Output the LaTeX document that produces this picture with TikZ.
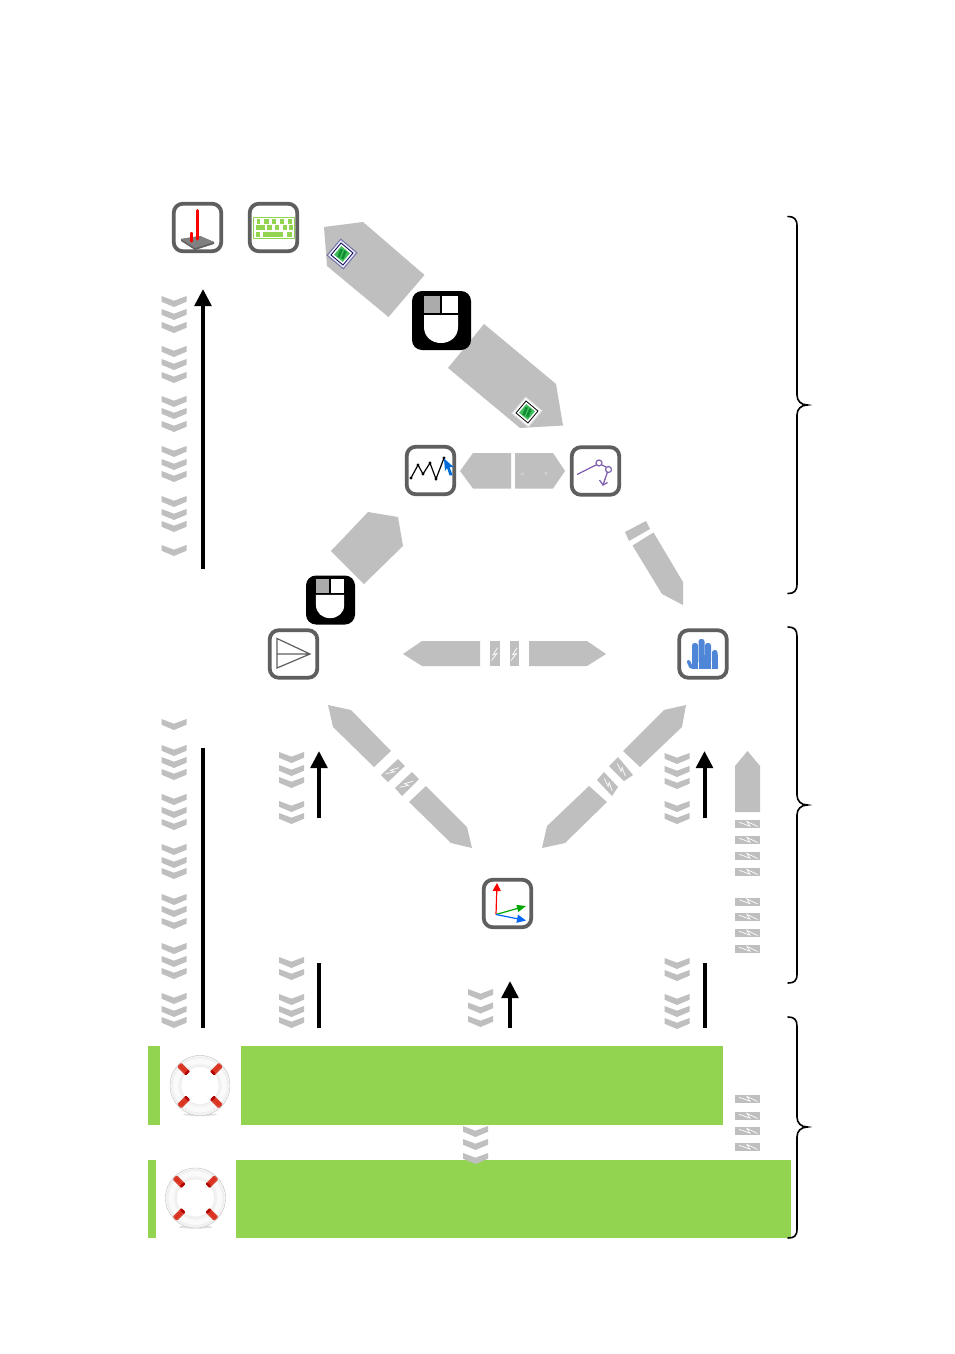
\documentclass[tikz,border=0pt]{standalone}
\usetikzlibrary{arrows.meta}
\definecolor{arrowgray}{HTML}{BFBFBF}
\definecolor{barGreen}{HTML}{92D350}
\definecolor{boxGray}{HTML}{5F5F5F}
\definecolor{handBlue}{HTML}{4F86D8}
\definecolor{purp}{HTML}{8060B0}
\definecolor{bandRed}{HTML}{D6402C}
\definecolor{chipGreen}{HTML}{3CBF5A}
\definecolor{chipDark}{HTML}{128A32}
\tikzset{
  x=1pt,y=-1pt,
  grayshape/.style={fill=arrowgray,draw=none},
  greenbar/.style={fill=barGreen,draw=none},
  iconbox/.style={draw=boxGray,line width=3.8pt,rounded corners=9pt,minimum size=47.5pt,inner sep=0pt,fill=white},
  mousebox/.style={fill=black,rounded corners=10pt,inner sep=0pt},
  boltline/.style={draw=white,line width=.7pt},
  blackline/.style={draw=black,line width=4pt},
  blackarrow/.style={draw=black,line width=4pt,-{Triangle[width=16.5pt,length=17pt]}},
  bracepath/.style={draw=black,line width=1.6pt,line cap=round},
  quotemark/.style={text=white,font=\fontsize{8}{8}\selectfont,inner sep=0pt}
}
\newcommand\chev[2]{\fill[arrowgray] (#1-12.5,#2)--(#1,#2+4.7)--(#1+12.5,#2)--(#1+12.5,#2+5.7)--(#1,#2+11)--(#1-12.5,#2+5.7)--cycle;}
\newcommand\boltat[4]{\begin{scope}[shift={(#1,#2)},rotate=#3,scale=#4]\draw[boltline] (2.3,-5)--(-1.7,1.2)--(1.7,0)--(-3,6);\end{scope}}
\newcommand\vseg[1]{\fill[grayshape] (735,#1) rectangle (760,#1+8); \boltat{747.5}{#1+4}{103}{1.55}}
\newcommand\mouseart[3]{\begin{scope}[shift={(#1,#2)},scale=#3]
  \fill[white] (12,5) rectangle (46,22);
  \fill[black!33] (12,5) rectangle (28,22);
  \fill[black] (28,5) rectangle (30,22);
  \fill[white] (12,24)--(46,24)--(46,36) .. controls (46,46) and (38,52) .. (29,52) .. controls (20,52) and (12,46) .. (12,36)--cycle;
\end{scope}}
\newcommand\buoy[2]{\begin{scope}[shift={(#1,#2)}]
  \fill[black!12] (0,29) ellipse[x radius=17,y radius=1.6];
  \draw[black!28,line width=.35pt,fill=black!2] (0,0) circle[radius=30];
  \draw[black!5,line width=2.5pt] (0,0) circle[radius=20.5];
  \draw[black!6,line width=2pt] (0,0) circle[radius=28];
  \draw[black!10,line width=.4pt,fill=white] (0,0) circle[radius=19];
  \foreach \a in {45,135,225,315}{
    \begin{scope}[rotate=\a]
      \fill[bandRed,rounded corners=1.2pt] (17,-3) rectangle (29.5,3);
      \fill[red!70!black,rounded corners=1pt] (17,-3) rectangle (19.5,3);
      \fill[red!35!bandRed] (20,-1) rectangle (28,.6);
    \end{scope}}
\end{scope}}
\newcommand\chipart[6]{\begin{scope}[shift={(#1,#2)},rotate=#3]
  \draw[#4,line width=1pt,fill=#5] (-10.5,-10.5) rectangle (10.5,10.5);
  \draw[#6,line width=.8pt,fill=white] (-7.8,-7.8) rectangle (7.8,7.8);
  \fill[chipGreen] (-5.6,-5.6) rectangle (5.6,5.6);
  \begin{scope}[rotate=18]
  \fill[chipDark] (-3.3,-4.3) rectangle (-.8,4.3);
  \fill[chipDark] (.8,-4.3) rectangle (3.3,4.3);
  \end{scope}
\end{scope}}
\begin{document}
\begin{tikzpicture}
\path[use as bounding box,fill=white] (0,0) rectangle (954,1354);

% chevrons
\foreach \y in {296,309,322,346,359,372,396,408,421,446,459,471,496,509,521,545,719,745,757,769,794,807,819,844,857,868,894,906,918,943,956,968,993,1006,1017}{\chev{174}{\y}}
\foreach \y in {752,765,777,801,813,957,969,994,1006,1017}{\chev{291.5}{\y}}
\foreach \y in {753,766,778,801,813,958,970,994,1006,1018}{\chev{677}{\y}}
\foreach \y in {989,1002.5,1016}{\chev{480.5}{\y}}

% green bars
\fill[greenbar] (147.5,1046) rectangle (160,1125);
\fill[greenbar] (241,1046) rectangle (723,1125);
\fill[greenbar] (147.5,1159.5) rectangle (156,1238);
\fill[greenbar] (236,1159.5) rectangle (791,1238);
\foreach \y in {1126,1139,1153}{\chev{475.5}{\y}}

% gray arrows
\fill[grayshape] (324,227)--(363,222)--(424.5,275)--(388.5,317)--(327,266)--cycle;
\fill[grayshape] (484,324)--(556,384)--(563,425.5)--(520,428)--(448,368)--cycle;
\fill[grayshape] (460,471)--(473,453)--(511,453)--(511,488.5)--(473,488.5)--cycle;
\fill[grayshape] (515,453)--(553,453)--(565,471)--(553,488.5)--(515,488.5)--cycle;
\node[quotemark] (quoteL) at (523,476) {``};
\node[quotemark] (quoteR) at (546,476) {''};
\fill[grayshape] (368,512)--(398,517)--(403,546)--(364,584)--(331,551)--cycle;
\fill[grayshape] (625,532)--(646,521)--(650,529)--(629,541)--cycle;
\fill[grayshape] (632.5,545.5)--(653.5,532.5)--(683,582)--(683,605)--(662,594)--cycle;
% horizontal arrow
\fill[grayshape] (403,654)--(422,641)--(480,641)--(480,666)--(422,666)--cycle;
\fill[grayshape] (490,641) rectangle (500,666);
\fill[grayshape] (510,641) rectangle (519,666);
\fill[grayshape] (529,641)--(587,641)--(606,654)--(587,666)--(529,666)--cycle;
\boltat{495}{653.5}{0}{1.15}
\boltat{514.5}{653.5}{0}{1.15}
% lower-left diagonal
\fill[grayshape] (328,705)--(351,710)--(391,751)--(374,767)--(333,727)--cycle;
\fill[grayshape] (398,759)--(405,766)--(388,782)--(381,775)--cycle;
\fill[grayshape] (412,772)--(419,779)--(402,796)--(395,788)--cycle;
\fill[grayshape] (426,786)--(467,827)--(472,848)--(451,843)--(409,802)--cycle;
\boltat{393}{770.5}{-40}{1.2}
\boltat{407}{784}{-40}{1.2}
% lower-right diagonal
\fill[grayshape] (686,705)--(664,710)--(623,751)--(640,767)--(682,727)--cycle;
\fill[grayshape] (618,757)--(633,775)--(624,781)--(609,766)--cycle;
\fill[grayshape] (604,772)--(618,787)--(612,796)--(597,780)--cycle;
\fill[grayshape] (589,786)--(607,802)--(565,843)--(542,848)--(547,826)--cycle;
\boltat{621}{769}{58}{1.2}
\boltat{608}{784}{58}{1.2}
% right vertical arrow
\fill[grayshape] (747.5,751)--(760,766)--(760,812)--(735,812)--(735,766)--cycle;
\foreach \y in {820,836,852,868,897.5,913,929,945,1095,1112,1127,1143}{\vseg{\y}}

% icon boxes
\node[iconbox] (boxTouch) at (197.5,227.5) {};
\node[iconbox] (boxKeys) at (273.5,227.5) {};
\node[iconbox] (boxGraph) at (430.5,470.5) {};
\node[iconbox] (boxPath) at (595.5,471) {};
\node[iconbox] (boxPlane) at (293.5,654) {};
\node[iconbox] (boxHand) at (703,654) {};
\node[iconbox] (boxAxes) at (507.5,903.5) {};
\node[mousebox,minimum size=59pt] (mouseA) at (441.5,320.5) {};
\node[mousebox,minimum size=49pt] (mouseB) at (330.5,600) {};
\mouseart{412}{291}{1}
\mouseart{306}{575}{.83}

% touch icon
\fill[black!62] (181,239)--(200,236)--(214,242)--(214,244)--(195,250)--(181,241)--cycle;
\fill[black!50] (181,239)--(200,236)--(214,242)--(195,248)--cycle;
\draw[red,line width=3pt,line cap=round] (197,210.5)--(197,239);
\draw[red,line width=2.2pt,line cap=round] (191.5,233)--(191.5,241.5);

% keyboard icon
\draw[barGreen,line width=1.3pt] (253.5,217.5) rectangle (294.5,238.5);
\foreach \a/\b in {256.5/260,264/268.5,271.5/276,279.5/284,287.5/292}{\fill[barGreen] (\a,218.5) rectangle (\b,223.5);}
\foreach \a/\b in {256/265,267/272,275/279,283/287,289/293}{\fill[barGreen] (\a,225) rectangle (\b,230);}
\foreach \a/\b in {256/260,263/283,287/292}{\fill[barGreen] (\a,231.5) rectangle (\b,236.5);}

% chips
\chipart{342}{254}{-40}{blue!35!black!55}{blue!8}{blue!30!black}
\chipart{527}{412}{-40}{black!12}{white}{black}

% graph icon
\draw[black,line width=1.2pt] (411,478)--(418,465)--(423,474)--(430,463)--(436,479)--(444,458);
\foreach \p in {(411,478),(418,465),(423,474),(430,463),(436,479),(444,458)}{\fill[black] \p circle[radius=1.7];}
\fill[blue!50!cyan!85!black] (444,458.5)--(453.5,467)--(449.5,467)--(452.5,475)--(449.5,475.5)--(447,468)--(445,471)--cycle;

% path icon
\draw[purp,line width=1.3pt] (577,474.5)--(597,464.5);
\draw[purp,line width=1.3pt] (601,464.5)--(606,467);
\draw[purp,line width=1.3pt] (607.5,472)--(603,485);
\draw[purp,line width=1.3pt] (599.5,480)--(603,485)--(607.5,482.5);
\draw[purp,line width=1.2pt] (599,463) circle[radius=3];
\draw[purp,line width=1.2pt] (608.5,469.5) circle[radius=3];

% plane icon
\draw[boxGray,line width=1.2pt] (277,638.5)--(310,654)--(277,668)--cycle (277,654)--(310,654);

% hand icon
\foreach \a/\b/\t in {692/698/643,698.5/704.5/639,705/711/643,712/717.5/650}{
  \fill[handBlue,rounded corners=2.5pt] (\a,\t) rectangle (\b,664);
  \fill[handBlue] (\a,655) rectangle (\b,669);}
\draw[handBlue,line width=3.5pt,line cap=round] (688.5,661.5)--(691,667);

% axes icon
\coordinate (origin) at (496,914.5);
\coordinate (axR) at (497,883);
\coordinate (axG) at (526,906);
\coordinate (axB) at (526,920.5);
\draw[red,line width=1.2pt,-{Triangle[width=8pt,length=8pt]}] (origin)--(axR);
\draw[green!65!black,line width=1.2pt,-{Triangle[width=7pt,length=9pt]}] (origin)--(axG);
\draw[blue!60!cyan,line width=1.2pt,-{Triangle[width=8pt,length=9pt]}] (origin)--(axB);

% black arrows
\coordinate (a1s) at (203,569); \coordinate (a1e) at (203,289);
\coordinate (a2s) at (203,1028); \coordinate (a2e) at (203,748);
\coordinate (a3s) at (319,818); \coordinate (a3e) at (319,751);
\coordinate (a4s) at (319,1028); \coordinate (a4e) at (319,963);
\coordinate (a5s) at (510,1028); \coordinate (a5e) at (510,981);
\coordinate (a6s) at (704.5,818); \coordinate (a6e) at (704.5,751);
\coordinate (a7s) at (704.5,1028); \coordinate (a7e) at (704.5,963);
\draw[blackarrow] (a1s)--(a1e);
\draw[blackline] (a2s)--(a2e);
\draw[blackarrow] (a3s)--(a3e);
\draw[blackline] (a4s)--(a4e);
\draw[blackarrow] (a5s)--(a5e);
\draw[blackarrow] (a6s)--(a6e);
\draw[blackline] (a7s)--(a7e);

% lifebuoys
\buoy{200}{1085.5}
\buoy{195.5}{1198}

% braces
\draw[bracepath] (788,216.5) .. controls (794,216.5) and (797,219) .. (797,226)--(797,395) .. controls (797,401) and (801,405) .. (807.5,405) .. controls (801,405) and (797,409) .. (797,415)--(797,584) .. controls (797,591) and (794,593.5) .. (788,593.5);
\draw[bracepath] (788,627) .. controls (794,627) and (797,629.5) .. (797,636)--(797,795) .. controls (797,801) and (801,805) .. (807.5,805) .. controls (801,805) and (797,809) .. (797,815)--(797,974) .. controls (797,981) and (794,983) .. (788,983);
\draw[bracepath] (788,1017) .. controls (794,1017) and (797,1019.5) .. (797,1026)--(797,1117) .. controls (797,1123) and (801,1127) .. (807.5,1127) .. controls (801,1127) and (797,1131) .. (797,1137)--(797,1229) .. controls (797,1236) and (794,1238) .. (788,1238);
\end{tikzpicture}
\end{document}
